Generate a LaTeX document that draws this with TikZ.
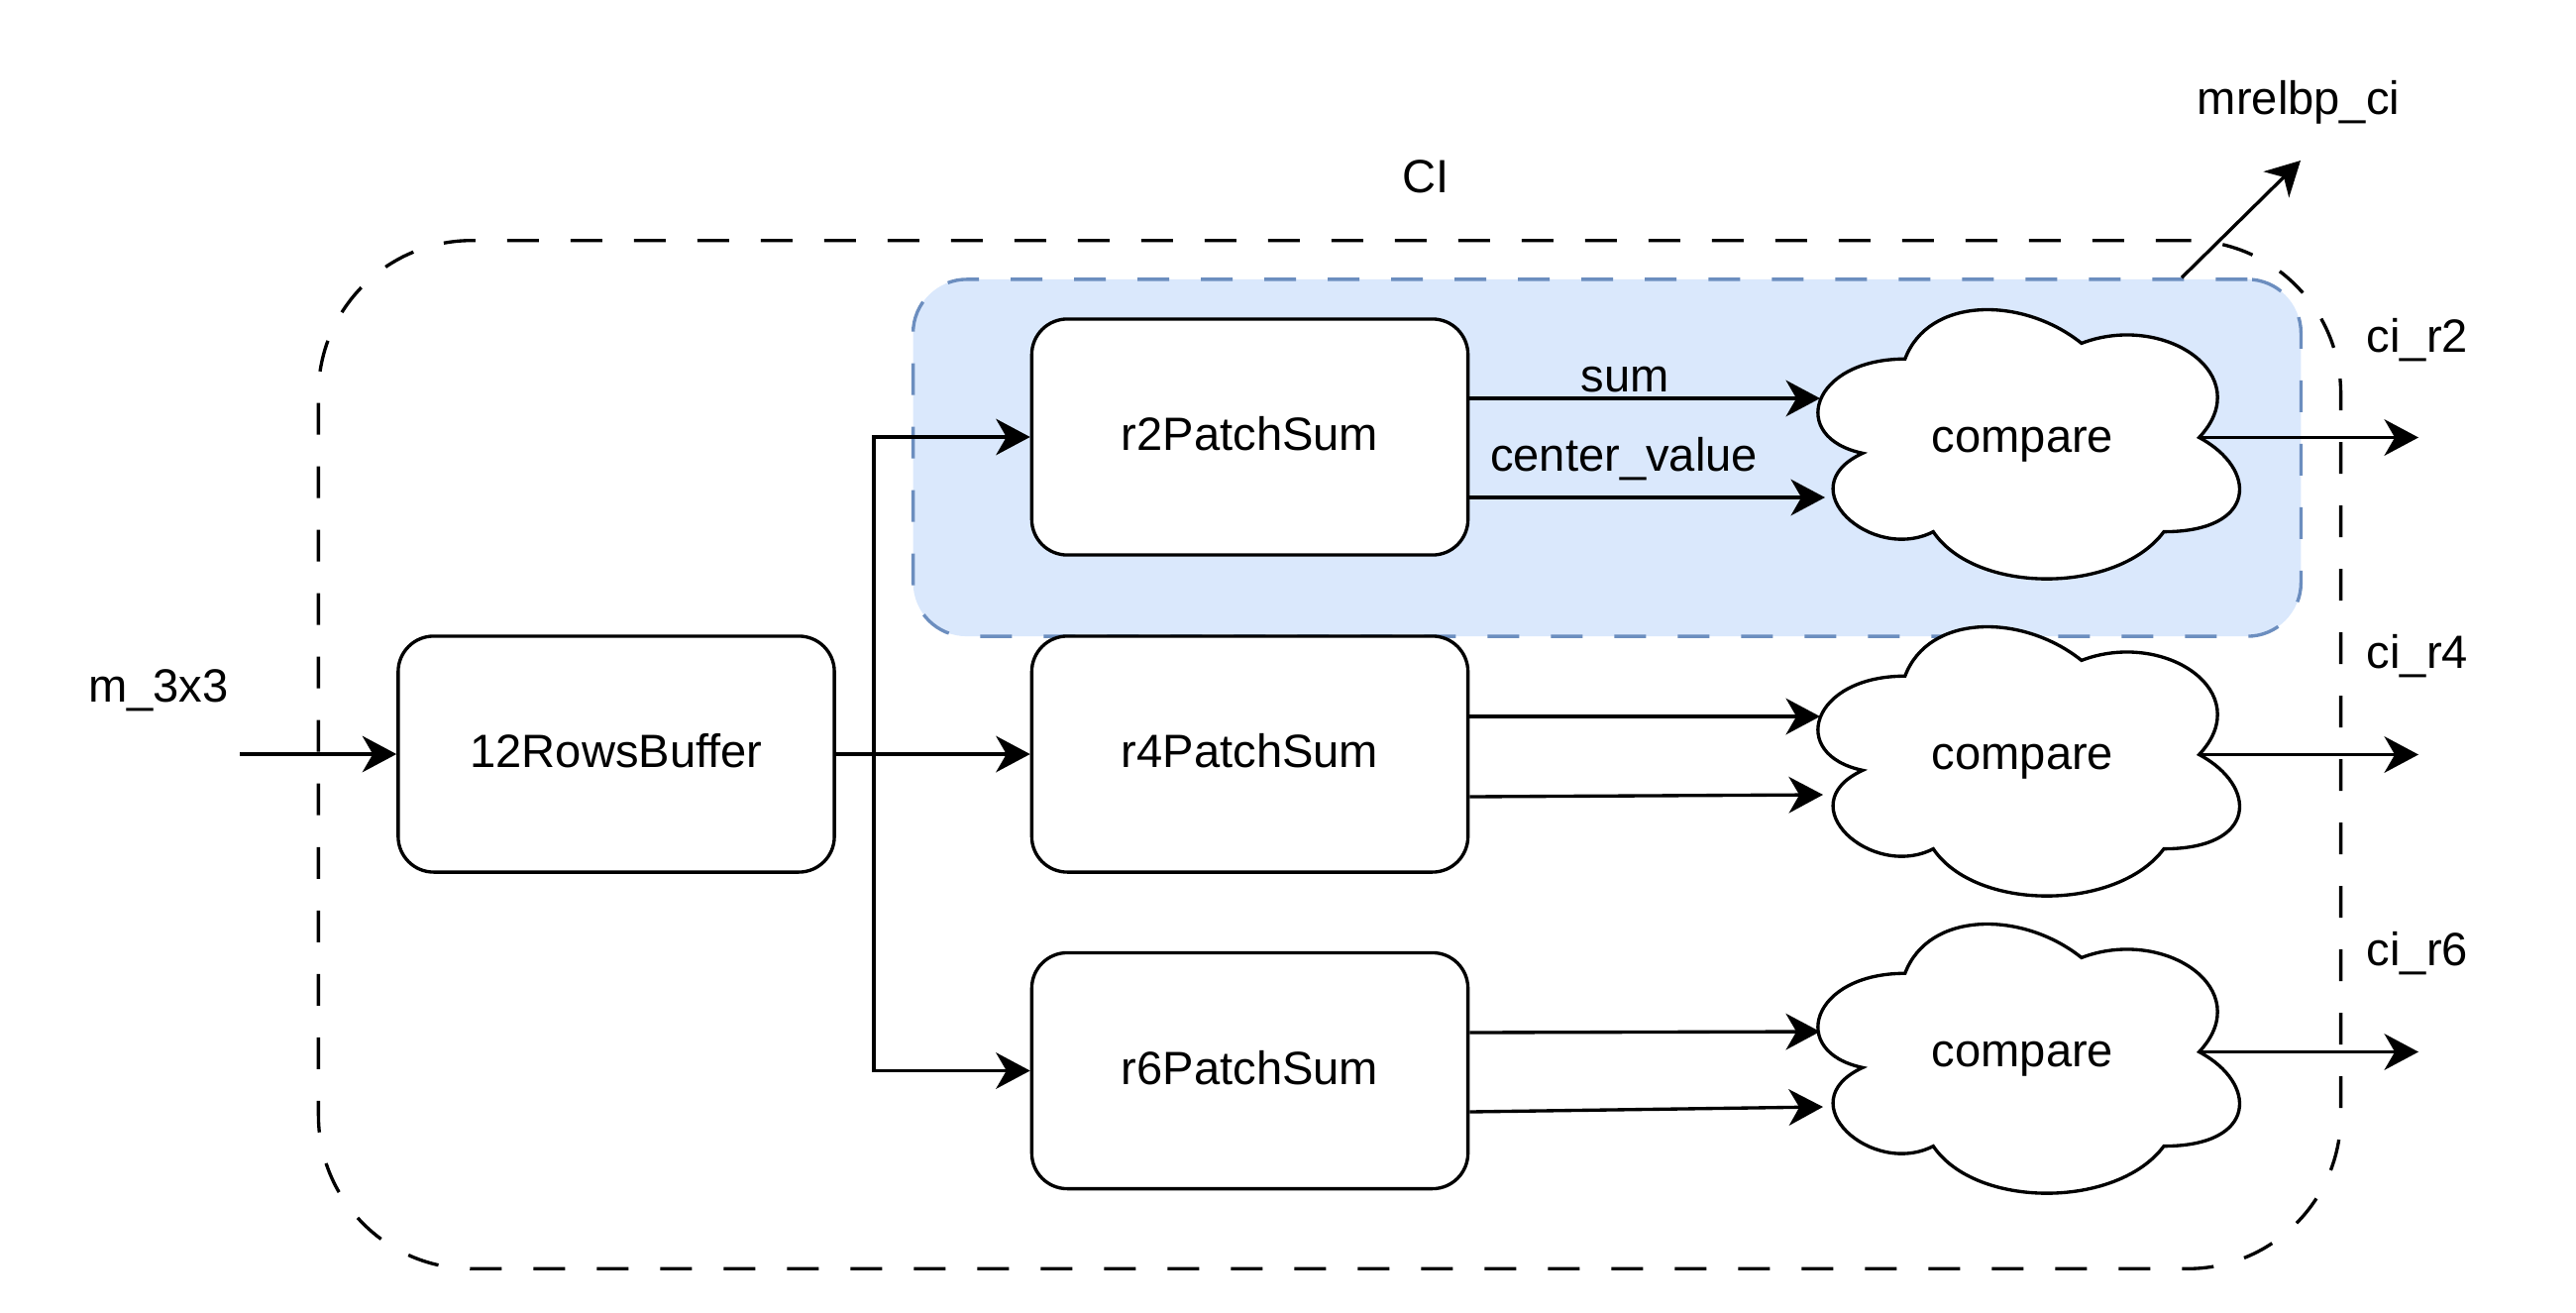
\documentclass[tikz,border=0pt]{standalone}
\usepackage{fontspec}
\setmainfont{Liberation Sans}
\usetikzlibrary{arrows.meta,calc}
\definecolor{bluefill}{HTML}{DAE8FC}
\definecolor{bluedraw}{HTML}{6C8EBF}
\newcommand{\cw}{475}
\newcommand{\ch}{317}
% draw.io style cloud outline with top-left corner at (#1,#2)
\newcommand{\cloudpath}[2]{%
  \draw[lw, fill=white] (#1+0.25*\cw,#2+0.25*\ch)
    .. controls (#1+0.05*\cw,#2+0.25*\ch) and (#1,#2+0.5*\ch) .. (#1+0.16*\cw,#2+0.55*\ch)
    .. controls (#1,#2+0.66*\ch) and (#1+0.18*\cw,#2+0.9*\ch) .. (#1+0.31*\cw,#2+0.8*\ch)
    .. controls (#1+0.4*\cw,#2+\ch) and (#1+0.7*\cw,#2+\ch) .. (#1+0.8*\cw,#2+0.8*\ch)
    .. controls (#1+\cw,#2+0.8*\ch) and (#1+\cw,#2+0.6*\ch) .. (#1+0.875*\cw,#2+0.5*\ch)
    .. controls (#1+\cw,#2+0.3*\ch) and (#1+0.8*\cw,#2+0.1*\ch) .. (#1+0.625*\cw,#2+0.2*\ch)
    .. controls (#1+0.5*\cw,#2+0.05*\ch) and (#1+0.3*\cw,#2+0.05*\ch) .. (#1+0.25*\cw,#2+0.25*\ch) -- cycle;}
\begin{document}
\begin{tikzpicture}[x=0.01cm,y=-0.01cm,
  font=\fontsize{13.4pt}{16pt}\selectfont,
  lw/.style={line width=0.95pt},
  blockbox/.style={lw, draw, fill=white, rounded corners=10.2pt, minimum width=4.4cm, minimum height=2.38cm, inner sep=0pt, text height=0.78em, text depth=0pt},
  arr/.style={lw, -{Stealth[length=9.8pt,width=10.4pt,inset=3pt]}},
  lbl/.style={anchor=base, inner sep=0pt},
  outerbox/.style={lw, draw, dash pattern=on 9.1pt off 9.1pt, rounded corners=44pt, minimum width=20.4cm, minimum height=10.37cm, inner sep=0pt},
  groupbox/.style={lw, draw=bluedraw, fill=bluefill, dash pattern=on 9.1pt off 9.1pt, rounded corners=15.4pt, minimum width=14cm, minimum height=3.6cm, inner sep=0pt},
  cloudbox/.style={minimum width=4.75cm, minimum height=3.17cm, inner sep=0pt, text height=0.84em, text depth=0pt},
]
\useasboundingbox (0,0) rectangle (2600,1324);

% containers
\node[outerbox] (ci) at (1342,761.5) {};
\node[groupbox] (grp) at (1622,462) {};

% blocks
\node[blockbox] (buf) at (622,761) {12RowsBuffer};
\node[blockbox] (r2) at (1261.5,441) {r2PatchSum};
\node[blockbox] (r4) at (1261.5,761) {r4PatchSum};
\node[blockbox] (r6) at (1261.5,1080.5) {r6PatchSum};

% clouds
\cloudpath{1804}{283}
\cloudpath{1804}{603}
\cloudpath{1804}{903}
\node[cloudbox] (c1) at (2041.5,441.5) {compare};
\node[cloudbox] (c2) at (2041.5,761.5) {compare};
\node[cloudbox] (c3) at (2041.5,1061.5) {compare};

% labels
\node[lbl] (lm) at (160,708) {m\_3x3};
\node[lbl] (lci) at (1439,194) {CI};
\node[lbl] (lmr) at (2320,115) {mrelbp\_ci};
\node[lbl] (l2) at (2440,355) {ci\_r2};
\node[lbl] (l4) at (2440,674) {ci\_r4};
\node[lbl] (l6) at (2440,974) {ci\_r6};
\node[lbl] (lsum) at (1640,395) {sum};
\node[lbl] (lcv) at (1639,475) {center\_value};

% coordinates
\coordinate (in) at (242,761);
\coordinate (sp) at (882,761);
\coordinate (o1) at (2441,441.5);
\coordinate (o2) at (2441,761.5);
\coordinate (o3) at (2441,1061.5);
\coordinate (mend) at (2322,162);

% input and distribution
\draw[arr] (in) -- (buf.west);
\draw[arr] (buf.east) -- (r4.west);
\draw[arr] (buf.east) -- (sp) |- (r2.west);
\draw[arr] (buf.east) -- (sp) |- (r6.west);

% patch sums to compare
\draw[arr] ($(r2.east)+(0,-39)$) -- ($(c1.center)+(-204.5,-39.5)$);
\draw[arr] ($(r2.east)+(0,61)$) -- ($(c1.center)+(-199.5,60.5)$);
\draw[arr] ($(r4.east)+(0,-38)$) -- ($(c2.center)+(-204.5,-38.5)$);
\draw[arr] ($(r4.east)+(0,43)$) -- ($(c2.center)+(-201.5,40.5)$);
\draw[arr] ($(r6.east)+(0,-38.5)$) -- ($(c3.center)+(-204.5,-20.5)$);
\draw[arr] ($(r6.east)+(0,41.5)$) -- ($(c3.center)+(-201.5,55.5)$);

% outputs
\draw[arr] ($(c1.center)+(178,0)$) -- (o1);
\draw[arr] ($(c2.center)+(178,0)$) -- (o2);
\draw[arr] ($(c3.center)+(178,0)$) -- (o3);
\draw[arr] ($(grp.north)+(580,0)$) -- (mend);
\end{tikzpicture}
\end{document}
